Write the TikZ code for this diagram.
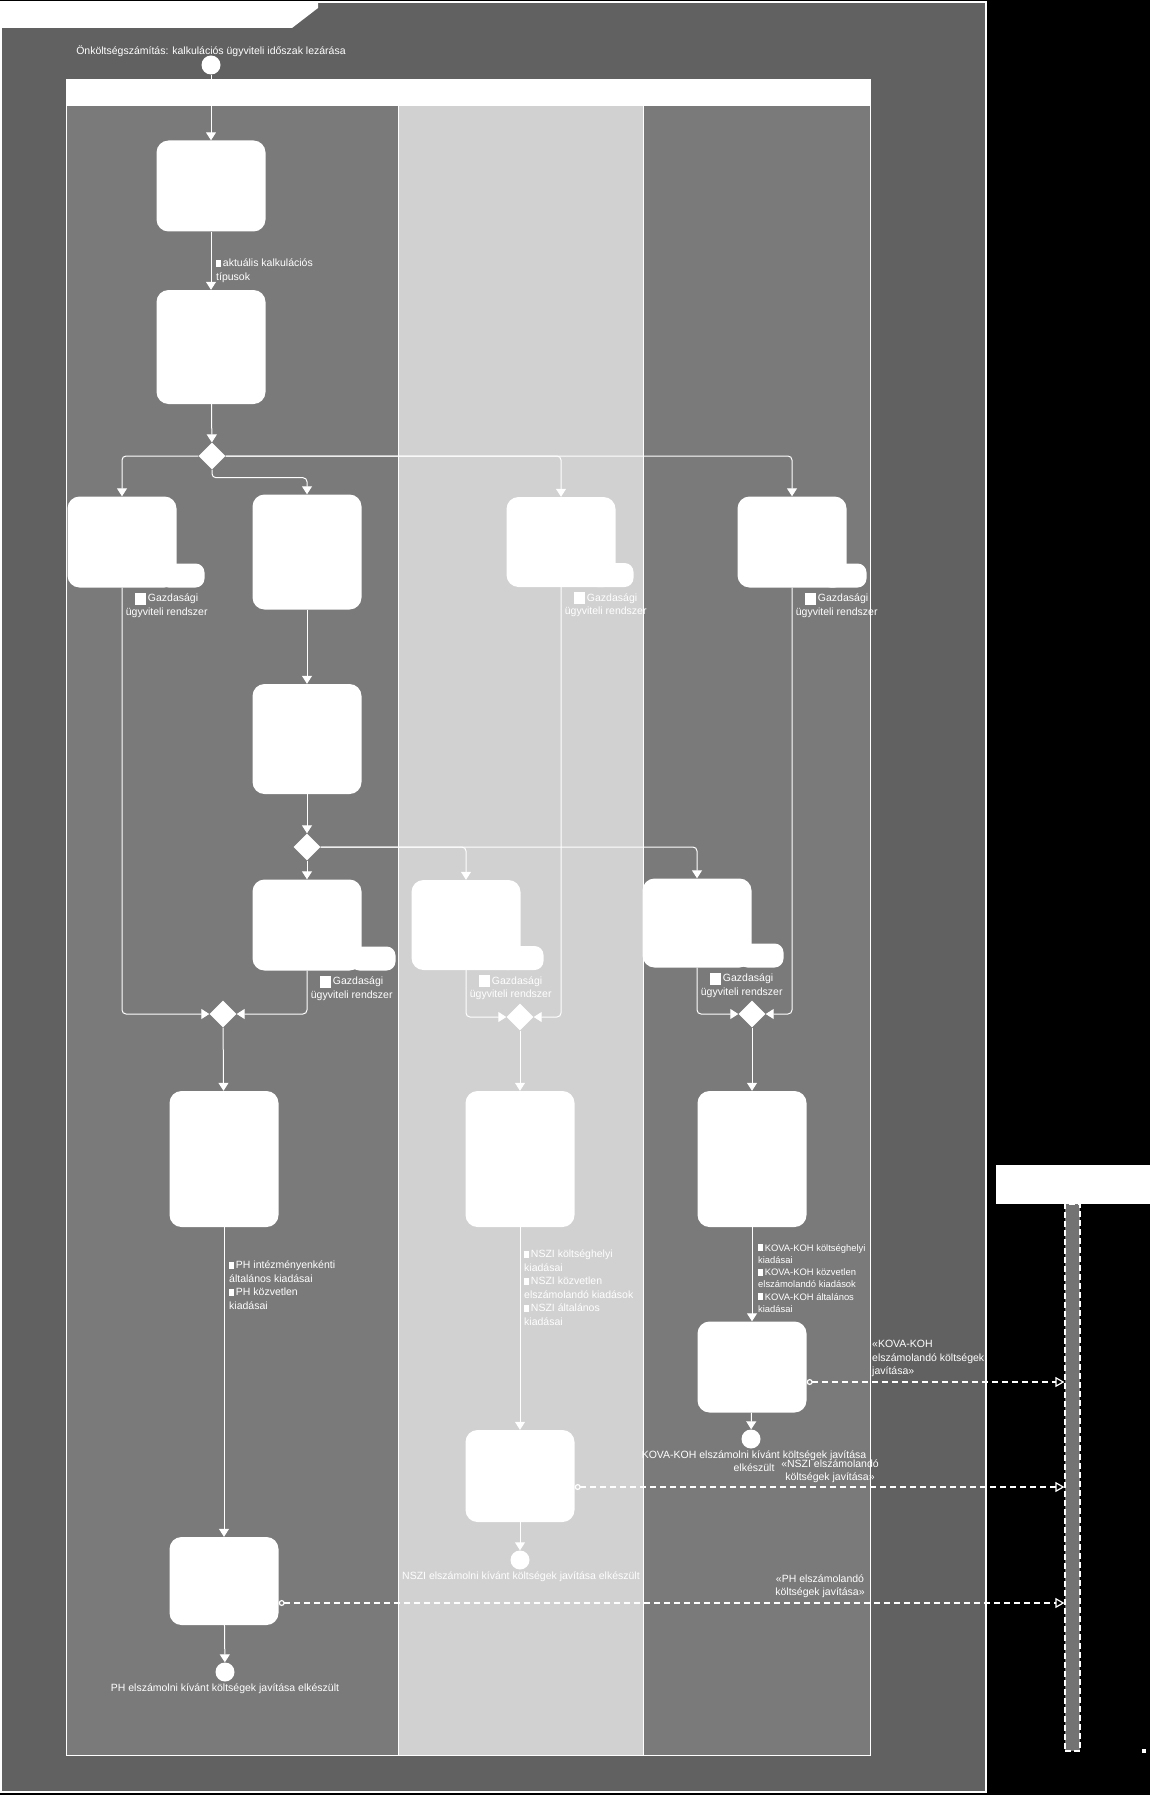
\documentclass[tikz,border=0pt]{standalone}
\usepackage{fontspec}
\setmainfont{Liberation Sans}
\usetikzlibrary{arrows.meta, positioning, shapes.geometric}
\tikzset{
  act/.style={rectangle,fill=white,rounded corners=12pt,minimum width=109pt,inner sep=0pt},
  outpin/.style={rectangle,fill=white,rounded corners=9pt,minimum width=45pt,minimum height=24pt,inner sep=0pt},
  branch/.style={diamond,fill=white,minimum width=27pt,minimum height=27pt,inner sep=0pt},
  dot/.style={circle,fill=white,minimum size=19pt,inner sep=0pt},
  txt/.style={text=white,font=\fontsize{10.5}{13.5}\selectfont,inner sep=0pt},
  lifebar/.style={rectangle,fill=black!55,draw=white,line width=1.2pt,dash pattern=on 6pt off 3pt,minimum width=15pt,minimum height=547pt,inner sep=0pt},
  flow/.style={draw=white,line width=1pt,rounded corners=4pt,-{Triangle[width=10pt,length=8pt]}},
  msg/.style={draw=white,line width=1.2pt,dash pattern=on 6pt off 4pt,{Circle[open,length=6pt]}-{Triangle[open,width=10pt,length=9pt]}}
}
\newcommand{\docicon}{\rule{5pt}{7pt}\,}
\newcommand{\bigicon}{\rule[-3pt]{11pt}{12pt}\,}

\begin{document}
\begin{tikzpicture}[x=1pt,y=-1pt]
\useasboundingbox (0,0) rectangle (1150,1795);
\fill[black] (0,0) rectangle (1150,1795);
\filldraw[fill=black!62,draw=white,line width=1.5pt] (0.75,2) rectangle (986,1792);
\fill[white] (0,2) -- (318,2) -- (318,8) -- (292,28) -- (0,28) -- cycle;

\filldraw[fill=black!52,draw=white,line width=1pt] (66,80) rectangle (398,1755);
\filldraw[fill=black!18,draw=white,line width=1pt] (398,80) rectangle (643,1755);
\filldraw[fill=black!52,draw=white,line width=1pt] (643,80) rectangle (870,1755);
\fill[white] (66,80) rectangle (870,106);

\node[txt] (title) at (211,51) {Önköltségszámítás: kalkulációs ügyviteli időszak lezárása};
\node[dot] (start) at (211,65) {};
\node[act,minimum height=91pt] (A1) at (211,186) {};
\node[act,minimum height=114pt] (A2) at (211,347) {};
\node[branch] (D1) at (212,456) {};
\node[act,minimum height=91pt] (B1) at (122,542) {};
\node[act,minimum height=115pt] (B2) at (307,552) {};
\node[act,minimum height=90pt] (B3) at (561,542) {};
\node[act,minimum height=91pt] (B4) at (792,542) {};
\node[act,minimum height=110pt] (C1) at (307,739) {};
\node[branch] (D2) at (307,847) {};
\node[act,minimum height=91pt] (E1) at (307,925) {};
\node[act,minimum height=90pt] (E2) at (466,925) {};
\node[act,minimum height=89pt] (E3) at (697,923) {};
\node[branch] (M1) at (223,1014) {};
\node[branch] (M2) at (520,1017) {};
\node[branch] (M3) at (752,1014) {};
\node[act,minimum height=136pt] (F1) at (224,1159) {};
\node[act,minimum height=136pt] (I1) at (520,1159) {};
\node[act,minimum height=136pt] (H1) at (752,1159) {};
\node[act,minimum height=91pt] (H2) at (752,1367) {};
\node[act,minimum height=92pt] (I2) at (520,1476) {};
\node[act,minimum height=88pt] (G1) at (224,1581) {};
\node[dot] (endKO) at (751,1439) {};
\node[dot] (endNS) at (520,1560) {};
\node[dot] (endPH) at (225,1672) {};

\foreach \n/\w in {B1/28,B3/18,B4/20,E1/34,E2/23,E3/32}{
  \node[outpin,anchor=south east] (\n p) at ([xshift=\w pt]\n.south east) {};
  \node[txt,align=center,anchor=north] (\n l) at ([xshift=-10pt,yshift=-5pt]\n.south east) {\bigicon Gazdasági\\ügyviteli rendszer};
}

\node[txt,align=left,anchor=north west] (A1l) at (216,259) {\docicon aktuális kalkulációs\\típusok};
\node[txt,align=left,anchor=north west] (F1l) at (229,1261) {\docicon PH intézményenkénti\\általános kiadásai\\\docicon PH közvetlen\\kiadásai};
\node[txt,align=left,anchor=north west] (I1l) at (524,1250) {\docicon NSZI költséghelyi\\kiadásai\\\docicon NSZI közvetlen\\elszámolandó kiadások\\\docicon NSZI általános\\kiadásai};
\node[txt,font=\fontsize{9.4}{12.2}\selectfont,align=left,anchor=north west] (H1l) at (758,1244) {\docicon KOVA-KOH költséghelyi\\kiadásai\\\docicon KOVA-KOH közvetlen\\elszámolandó kiadások\\\docicon KOVA-KOH általános\\kiadásai};

\node[txt] (endPHl) at (225,1689) {PH elszámolni kívánt költségek javítása elkészült};
\node[txt,align=center] (endKOl) at (754,1461) {KOVA-KOH elszámolni kívánt költségek javítása\\elkészült};
\node[txt] (endNSl) at (521,1577) {NSZI elszámolni kívánt költségek javítása elkészült};

\node[rectangle,fill=white,minimum width=156pt,minimum height=39pt,inner sep=0pt] (lhead) at (1074,1184.5) {};
\node[lifebar] (lbar) at (1072.5,1477.5) {};
\node[rectangle,fill=white,minimum size=4pt,inner sep=0pt] (lmark) at (1144,1751) {};

\draw[flow] (start) -- (A1);
\draw[flow] (A1) -- (A2);
\draw[flow] (A2) -- (D1);
\draw[flow] (D1.west) -| (B1.north);
\draw[flow] (D1.south) -- ++(0,8) -| (B2.north);
\draw[flow] (D1.east) -| (B3.north);
\draw[flow] (D1.east) -| (B4.north);
\draw[flow] (B2) -- (C1);
\draw[flow] (C1) -- (D2);
\draw[flow] (D2) -- (E1);
\draw[flow] (D2.east) -| (E2.north);
\draw[flow] (D2.east) -| (E3.north);
\draw[flow] (B1.south) |- (M1.west);
\draw[flow] (E1.south) |- (M1.east);
\draw[flow] (E2.south) |- (M2.west);
\draw[flow] (B3.south) |- (M2.east);
\draw[flow] (E3.south) |- (M3.west);
\draw[flow] (B4.south) |- (M3.east);
\draw[flow] (M1) -- (F1);
\draw[flow] (F1) -- (G1);
\draw[flow] (G1) -- (endPH);
\draw[flow] (M2) -- (I1);
\draw[flow] (I1) -- (I2);
\draw[flow] (I2) -- (endNS);
\draw[flow] (M3) -- (H1);
\draw[flow] (H1) -- (H2);
\draw[flow] (H2) -- (endKO);

\coordinate (H2m) at ([yshift=-15pt]H2.east);
\coordinate (I2m) at ([yshift=-11pt]I2.east);
\coordinate (G1m) at ([yshift=-22pt]G1.east);
\draw[msg] (H2m) -- (H2m -| lbar.west);
\draw[msg] (I2m) -- (I2m -| lbar.west);
\draw[msg] (G1m) -- (G1m -| lbar.west);
\node[txt,align=left,anchor=south west] (H2ml) at (872,1377) {«KOVA-KOH\\elszámolandó költségek\\javítása»};
\node[txt,align=center,anchor=south] (I2ml) at (830,1483) {«NSZI elszámolandó\\költségek javítása»};
\node[txt,align=center,anchor=south] (G1ml) at (820,1598) {«PH elszámolandó\\költségek javítása»};
\end{tikzpicture}
\end{document}
